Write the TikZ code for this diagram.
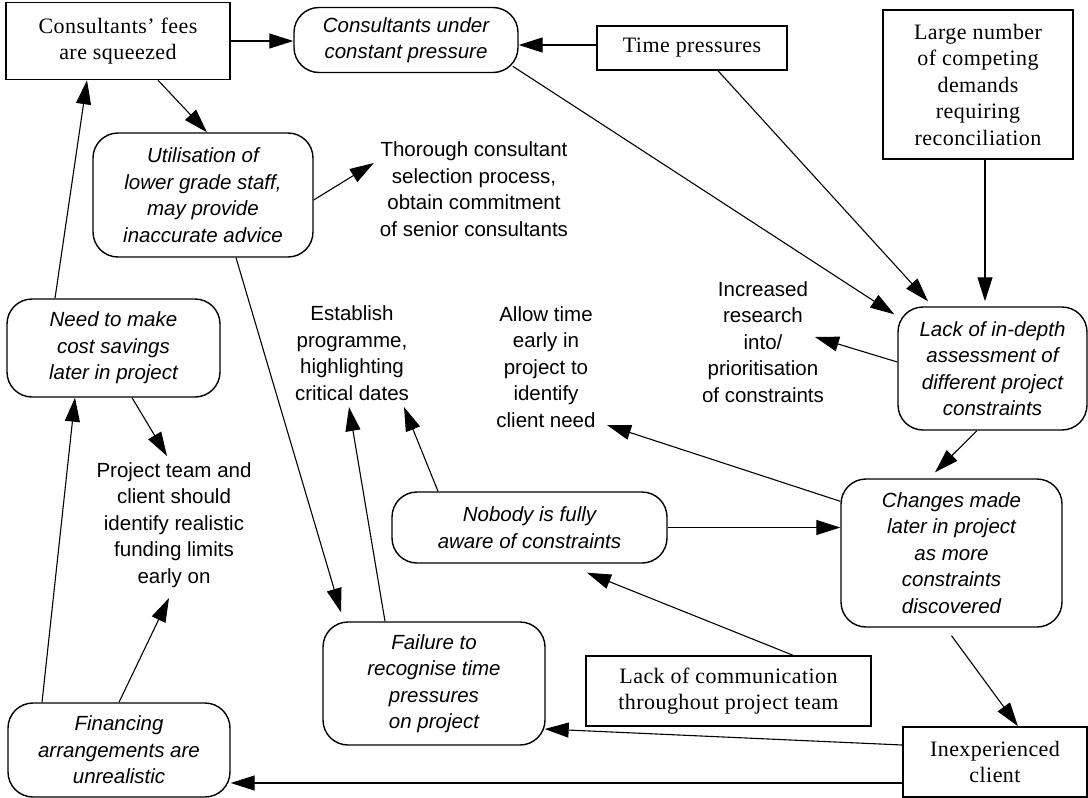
\documentclass[tikz,border=0pt]{standalone}
\usepackage{fontspec}
\setmainfont{Liberation Sans}
\newfontfamily\gara[LetterSpace=2]{Liberation Serif}
\usetikzlibrary{arrows.meta,calc}
\tikzset{
  every node/.style={align=center, inner sep=0pt, font=\fontsize{20.5}{26.5}\selectfont},
  sqbox/.style={draw, line width=1.5pt, font=\gara\fontsize{22}{26.5}\selectfont},
  rbox/.style={draw, line width=1.4pt, rounded corners=25pt, font=\itshape\fontsize{20.5}{26.5}\selectfont},
  plain/.style={},
  arr/.style={line width=1.1pt, -{Triangle[length=24pt,width=15pt]}}
}
\begin{document}
\begin{tikzpicture}[x=1pt,y=-1pt]
\useasboundingbox (0,0) rectangle (1088,798);
% nodes
\node[sqbox, minimum width=224pt, minimum height=77pt] (fees) at (118,41) {Consultants’ fees\\are squeezed};
\node[rbox, minimum width=224pt, minimum height=65pt] (pressure) at (406,40) {Consultants under\\constant pressure};
\node[sqbox, minimum width=190pt, minimum height=44pt] (time) at (692,48) {Time pressures};
\node[sqbox, minimum width=190pt, minimum height=149pt] (large) at (978,84.5) {Large number\\of competing\\demands\\requiring\\reconciliation};
\node[rbox, minimum width=220pt, minimum height=124pt] (util) at (203,195) {Utilisation of\\lower grade staff,\\may provide\\inaccurate advice};
\node[plain] (thorough) at (474,189) {Thorough consultant\\selection process,\\obtain commitment\\of senior consultants};
\node[rbox, minimum width=213pt, minimum height=98pt] (need) at (113.5,348) {Need to make\\cost savings\\later in project};
\node[plain] (establish) at (352,353) {Establish\\programme,\\highlighting\\critical dates};
\node[plain] (allow) at (546,367) {Allow time\\early in\\project to\\identify\\client need};
\node[plain] (increased) at (763,342) {Increased\\research\\into/\\prioritisation\\of constraints};
\node[rbox, minimum width=189pt, minimum height=123pt] (lack) at (992.5,368.5) {Lack of in-depth\\assessment of\\different project\\constraints};
\node[plain] (project) at (174,525) {Project team and\\client should\\identify realistic\\funding limits\\early on};
\node[rbox, minimum width=275pt, minimum height=71pt] (nobody) at (529.5,527.5) {Nobody is fully\\aware of constraints};
\node[rbox, minimum width=221pt, minimum height=148pt] (changes) at (951.5,553) {Changes made\\later in project\\as more\\constraints\\discovered};
\node[rbox, minimum width=222pt, minimum height=123pt] (failure) at (434,683.5) {Failure to\\recognise time\\pressures\\on project};
\node[sqbox, minimum width=285pt, minimum height=70pt] (lackcomm) at (728.5,691) {Lack of communication\\throughout project team};
\node[rbox, minimum width=222pt, minimum height=94pt] (fin) at (119,750) {Financing\\arrangements are\\unrealistic};
\node[sqbox, minimum width=184pt, minimum height=70pt] (inexp) at (995,762) {Inexperienced\\client};
% connectors
\draw[arr] (fees.east) -- (fees.east -| pressure.west);
\draw[arr] ([yshift=3pt]time.west) -- ([yshift=-5pt]pressure.east);
\draw[arr] ([xshift=40pt]fees.south) -- ([xshift=4pt]util.north);
\draw[arr] ([yshift=-5pt]util.east) -- ([xshift=-6pt,yshift=26pt]thorough.west);
\draw[arr] ([xshift=-58.5pt]need.north) -- ([xshift=-31pt]fees.south);
\draw[arr] ([xshift=33pt]util.south) -- ([xshift=-93pt,yshift=9pt]failure.north);
\draw[arr] ([xshift=-6pt,yshift=7pt]pressure.south east) -- ([xshift=-3pt,yshift=-8pt]lack.north west);
\draw[arr] ([xshift=26pt]time.south) -- ([xshift=-64.5pt,yshift=5pt]lack.north);
\draw[arr] ([xshift=7pt]large.south) -- ([xshift=-7.5pt,yshift=5pt]lack.north);
\draw[arr] ([yshift=6.5pt]lack.west) -- ([xshift=52pt,yshift=5pt]increased.center);
\draw[arr] ([xshift=-15.5pt]lack.south) -- ([xshift=-16.5pt,yshift=6pt]changes.north);
\draw[arr] ([yshift=-23pt]changes.north west) -- ([xshift=61pt,yshift=-58pt]allow.center);
\draw[arr] (nobody.east) -- (nobody.east -| changes.west);
\draw[arr] ([xshift=-91.5pt]nobody.north) -- ([xshift=52pt,yshift=-54pt]establish.center);
\draw[arr] ([xshift=-49pt]failure.north) -- ([xshift=-3pt,yshift=-54pt]establish.center);
\draw[arr] ([xshift=64.5pt]lackcomm.north) -- ([xshift=57.5pt,yshift=-9pt]nobody.south);
\draw[arr] ([yshift=-8pt]changes.south) -- ([xshift=23pt]inexp.north);
\draw[arr] ([yshift=17pt]inexp.west) -- ([xshift=-1pt,yshift=-45.5pt]failure.east);
\draw[arr] ([yshift=-21pt]inexp.west) -- ([yshift=-33pt]fin.east);
\draw[arr] ([xshift=-77pt]fin.north) -- ([xshift=-38.5pt]need.south);
\draw[arr] (fin.north) -- ([xshift=-5pt,yshift=-73pt]project.center);
\draw[arr] ([xshift=18.5pt]need.south) -- ([xshift=-7pt,yshift=69pt]project.center);
\end{tikzpicture}
\end{document}
